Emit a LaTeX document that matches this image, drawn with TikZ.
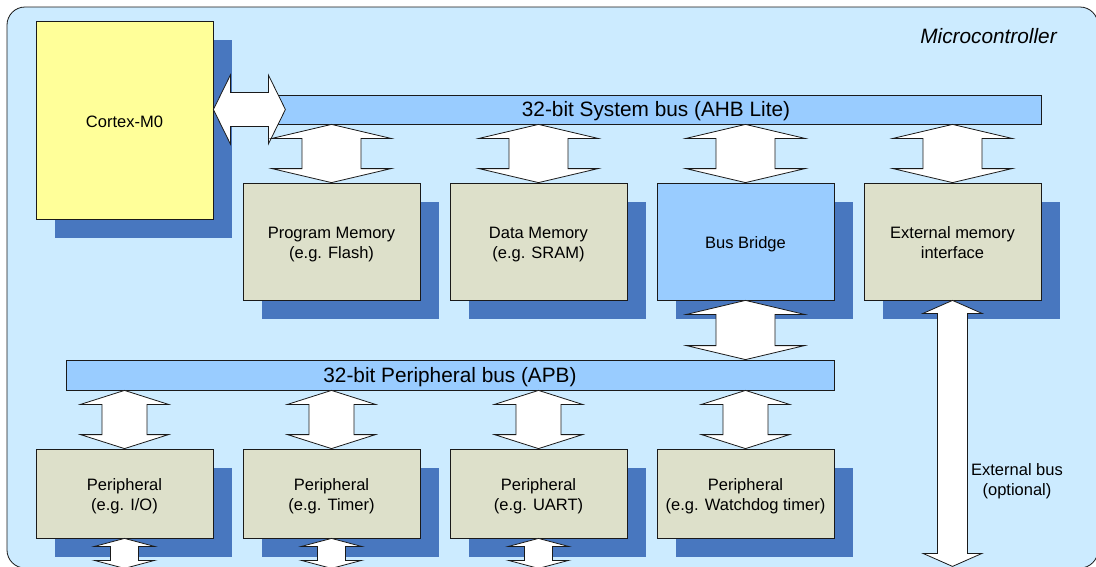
\documentclass[tikz,border=0pt]{standalone}
\usepackage{fontspec}
\setmainfont{Liberation Sans}
\usetikzlibrary{calc,shadows}
\definecolor{bgc}{HTML}{CCEBFF}
\definecolor{barc}{HTML}{99CCFF}
\definecolor{shc}{HTML}{4877BF}
\definecolor{boxc}{HTML}{DDE0CA}
\definecolor{cpuc}{HTML}{FFFF99}
\definecolor{linec}{HTML}{1A1A1A}
\tikzset{
  blk/.style={draw=linec, line width=0.8pt, align=center, inner sep=0pt,
    font=\fontsize{16.5}{20}\selectfont,
    drop shadow={shadow xshift=19pt, shadow yshift=-19pt, opacity=1, fill=shc}},
  membox/.style={blk, fill=boxc, minimum width=177pt, minimum height=117pt},
  perbox/.style={blk, fill=boxc, minimum width=177pt, minimum height=89pt},
  busbar/.style={draw=linec, fill=barc, line width=0.8pt, inner sep=0pt,
    font=\fontsize{20.8}{24}\selectfont},
  blockarrow/.style={draw=linec, fill=white, line width=0.8pt, line join=miter},
  plainlabel/.style={align=center, inner sep=0pt, font=\fontsize{16.5}{20}\selectfont},
}
% lowered text block (centred lines); reported size kept so the shift is visible
\newcommand{\tx}[1]{\raisebox{-3pt}[\height][\depth]{\begin{tabular}{@{}c@{}}#1\end{tabular}}}
\newcommand{\lw}[1]{\raisebox{-2pt}[\height][\depth]{#1}}
% vertical double block arrow: top tip, bottom tip, head half width, shaft half width, head length
\newcommand{\VArrow}[5]{%
  \draw[blockarrow] (#1) -- ($(#1)+(#3,#5)$) -- ($(#1)+(#4,#5)$) -- ($(#2)+(#4,-#5)$)
    -- ($(#2)+(#3,-#5)$) -- (#2) -- ($(#2)+(-#3,-#5)$) -- ($(#2)+(-#4,-#5)$)
    -- ($(#1)+(-#4,#5)$) -- ($(#1)+(-#3,#5)$) -- cycle;}
% horizontal double block arrow: left tip, right tip, head half height, shaft half height, head length
\newcommand{\HArrow}[5]{%
  \draw[blockarrow] (#1) -- ($(#1)+(#5,-#3)$) -- ($(#1)+(#5,-#4)$) -- ($(#2)+(-#5,-#4)$)
    -- ($(#2)+(-#5,-#3)$) -- (#2) -- ($(#2)+(-#5,#3)$) -- ($(#2)+(-#5,#4)$)
    -- ($(#1)+(#5,#4)$) -- ($(#1)+(#5,#3)$) -- cycle;}
\begin{document}
\begin{tikzpicture}[x=1pt,y=-1pt]
\useasboundingbox (0,0) rectangle (1096,566);
\clip (0,0) rectangle (1096,566);
% frame
\draw[fill=bgc, draw=linec, line width=0.8pt, rounded corners=18pt] (7,7) rectangle (1098,568);
\node[font=\fontsize{20.8}{24}\selectfont\itshape, inner sep=0pt] (title) at (988.5,36) {Microcontroller};
% CPU
\node[blk, fill=cpuc, minimum width=177pt, minimum height=198pt] (cm) at (124.5,120) {\tx{Cortex-M0}};
% AHB boxes
\node[membox] (pm) at (331.5,241.5) {\tx{Program Memory\\(e.g. Flash)}};
\node[membox] (dm) at (538.5,241.5) {\tx{Data Memory\\(e.g. SRAM)}};
\node[membox, fill=barc] (bb) at (745.5,241.5) {\tx{Bus Bridge}};
\node[membox] (em) at (952.5,241.5) {\tx{External memory\\interface}};
% peripherals
\node[perbox] (p1) at (124.5,493.5) {\tx{Peripheral\\(e.g. I/O)}};
\node[perbox] (p2) at (331.5,493.5) {\tx{Peripheral\\(e.g. Timer)}};
\node[perbox] (p3) at (538.5,493.5) {\tx{Peripheral\\(e.g. UART)}};
\node[perbox] (p4) at (745.5,493.5) {\tx{Peripheral\\(e.g. Watchdog timer)}};
% buses
\node[busbar, minimum width=770pt, minimum height=29pt] (sysbus) at (656,109.5) {\lw{32-bit System bus (AHB Lite)}};
\node[busbar, minimum width=768pt, minimum height=30pt] (apb) at (450,375) {\lw{32-bit Peripheral bus (APB)}};
% label
\node[plainlabel] (extlbl) at (1017,478) {\tx{External bus\\(optional)}};
% coordinates
\coordinate (cpL) at (cm.east |- sysbus.west);
\coordinate (cpR) at ($(cpL)+(72,0)$);
\foreach \b in {pm,dm,bb,em}{
  \coordinate (\b T) at (sysbus.south -| \b.north);
}
\coordinate (bbB) at (apb.north -| bb.south);
\foreach \p in {p1,p2,p3,p4}{
  \coordinate (\p T) at (apb.south -| \p.north);
}
\coordinate (extEnd) at ($(em.south)+(0,266)$);
\foreach \p in {p1,p2,p3}{
  \coordinate (\p E) at ($(\p.south)+(0,30)$);
}
% arrows
\HArrow{cpL}{cpR}{34.5}{17}{17}
\foreach \b in {pm,dm,bb,em}{
  \VArrow{\b T}{\b.north}{59.5}{29.5}{14}
}
\VArrow{bb.south}{bbB}{59}{29.5}{14}
\foreach \p in {p1,p2,p3,p4}{
  \VArrow{\p T}{\p.north}{44}{22.5}{14}
}
\foreach \p in {p1,p2,p3}{
  \VArrow{\p.south}{\p E}{30}{14}{8}
}
\VArrow{em.south}{extEnd}{29.5}{15}{13}
\end{tikzpicture}
\end{document}
